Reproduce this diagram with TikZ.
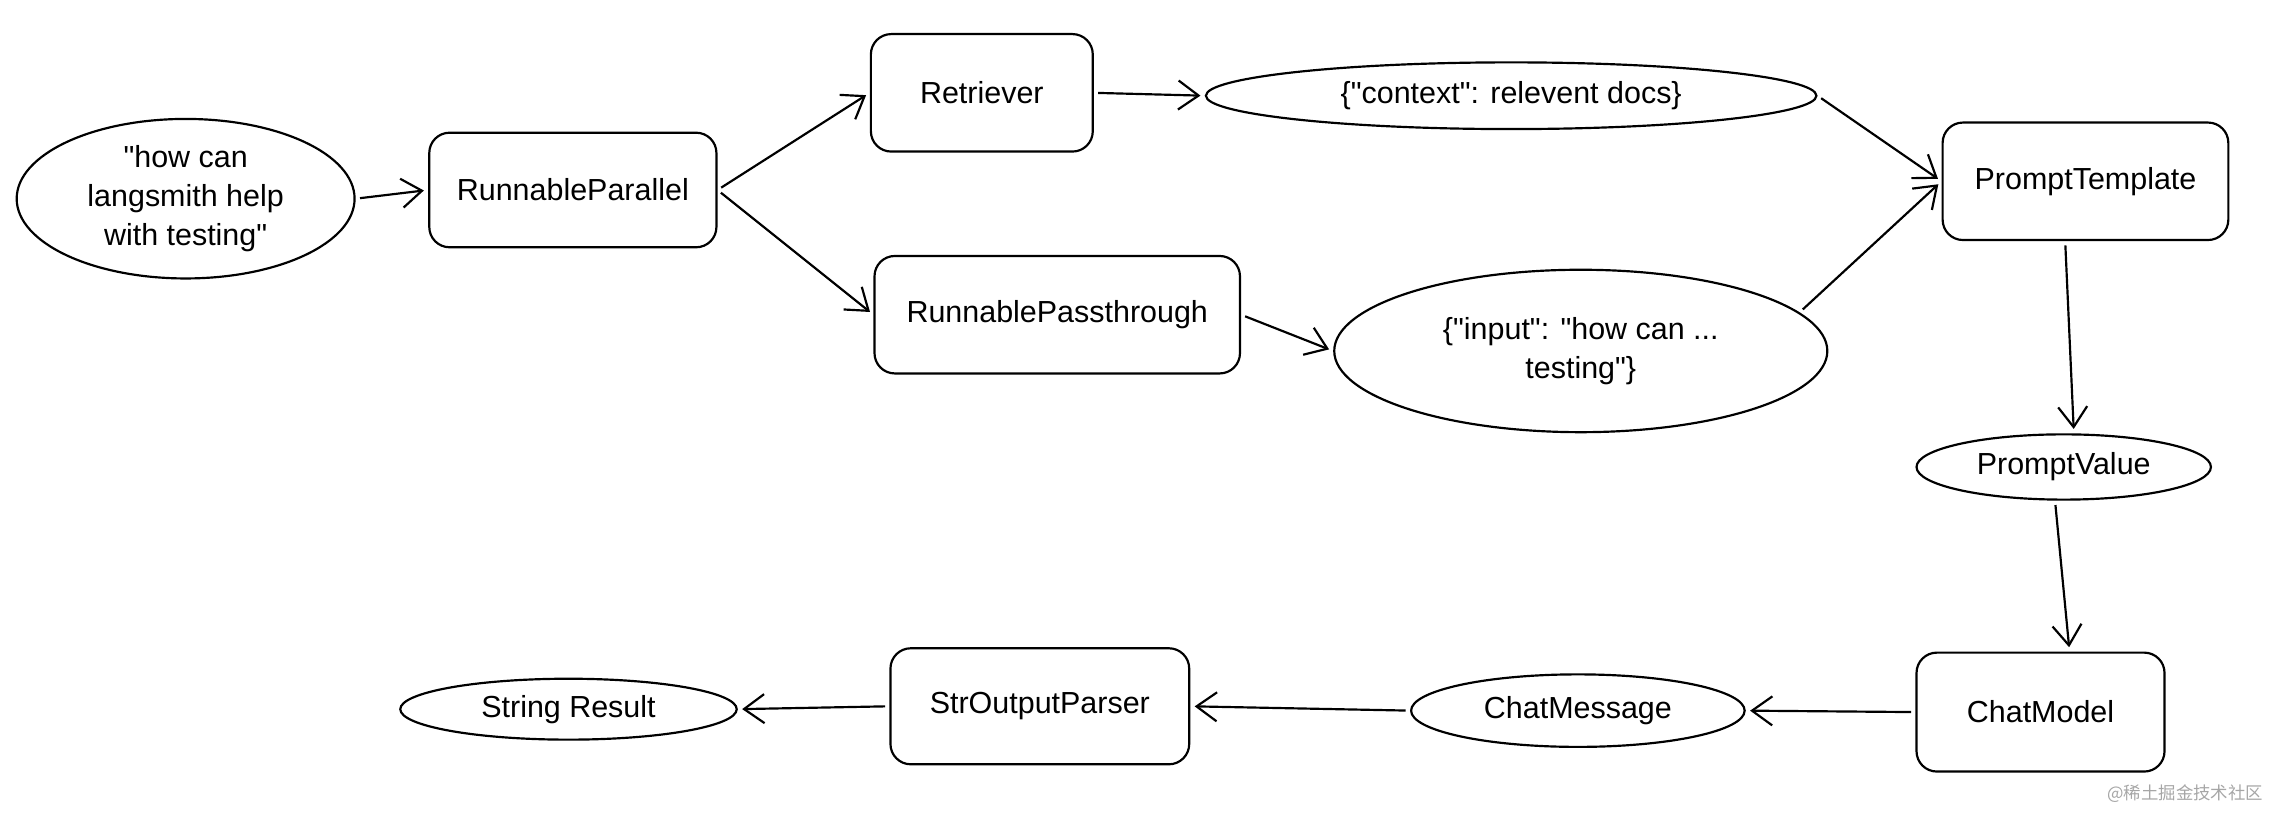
\documentclass[tikz,border=0pt]{standalone}
\usepackage{fontspec}
\setmainfont{Liberation Sans}
\newfontfamily\cjkfont{Noto Sans CJK SC}
\usetikzlibrary{shapes.geometric, arrows.meta}

\newcommand{\dq}{\textquotedbl}

\begin{document}
\begin{tikzpicture}[
    x=1pt, y=-1pt,
    >={Straight Barb[length=14pt, width=20pt]},
    every node/.style={font=\fontsize{21}{27}\selectfont, align=center},
    stage/.style={draw, line width=1.5pt, rounded corners=14pt, inner sep=0pt},
    value/.style={draw, ellipse, line width=1.5pt, inner sep=0pt},
    every edge/.style={draw, ->, line width=1.5pt, shorten >=3pt, shorten <=3pt}
]
    \useasboundingbox (0,0) rectangle (1568,560);

    % --- INPUT & PARALLEL BRANCHES ---
    \node[value, minimum width=233pt, minimum height=110pt] (inputq) at (128,137)
        {\dq how can\\langsmith help\\with testing\dq};
    \node[stage, minimum width=198pt, minimum height=79pt] (parallel) at (395,131) {RunnableParallel};
    \node[stage, minimum width=153pt, minimum height=81pt] (retriever) at (677,64) {Retriever};
    \node[stage, minimum width=252pt, minimum height=81pt] (passthrough) at (729,217) {RunnablePassthrough};

    % --- DICT VALUES ---
    \node[value, minimum width=421pt, minimum height=46pt] (ctxdict) at (1042,66)
        {\{\dq context\dq: relevent docs\}};
    \node[value, minimum width=340pt, minimum height=112pt] (inputdict) at (1090,242)
        {\{\dq input\dq: \dq how can ...\\testing\dq\}};

    % --- PROMPT / MODEL CHAIN ---
    \node[stage, minimum width=197pt, minimum height=81pt] (prompttpl) at (1438,125) {PromptTemplate};
    \node[value, minimum width=203pt, minimum height=45pt] (promptval) at (1423,322) {PromptValue};
    \node[stage, minimum width=171pt, minimum height=82pt] (chatmodel) at (1407,491) {ChatModel};
    \node[value, minimum width=230pt, minimum height=50pt] (chatmsg) at (1088,490) {ChatMessage};
    \node[stage, minimum width=206pt, minimum height=80pt] (parser) at (717,487) {StrOutputParser};
    \node[value, minimum width=232pt, minimum height=42pt] (result) at (392,489) {String Result};

    % watermark
    \node[font=\cjkfont\fontsize{12}{14}\selectfont, text=black!35, anchor=south east] (wmark)
        at (1564,557) {@稀土掘金技术社区};

    % --- FLOW ---
    \path[->]
        (inputq.east) edge (parallel.west)
        (parallel.east) edge (retriever.west)
        (parallel.east) edge (passthrough.west)
        (retriever.east) edge (ctxdict.west)
        (passthrough.east) edge (inputdict.west)
        (ctxdict.east) edge (prompttpl.west)
        (inputdict.10) edge (prompttpl.west);

    \path[->]
        ([xshift=-14pt]prompttpl.south) edge ([xshift=7pt]promptval.north)
        ([xshift=-6pt]promptval.south) edge ([xshift=20pt]chatmodel.north)
        (chatmodel.west) edge (chatmsg.east)
        (chatmsg.west) edge (parser.east)
        (parser.west) edge (result.east);

\end{tikzpicture}
\end{document}
